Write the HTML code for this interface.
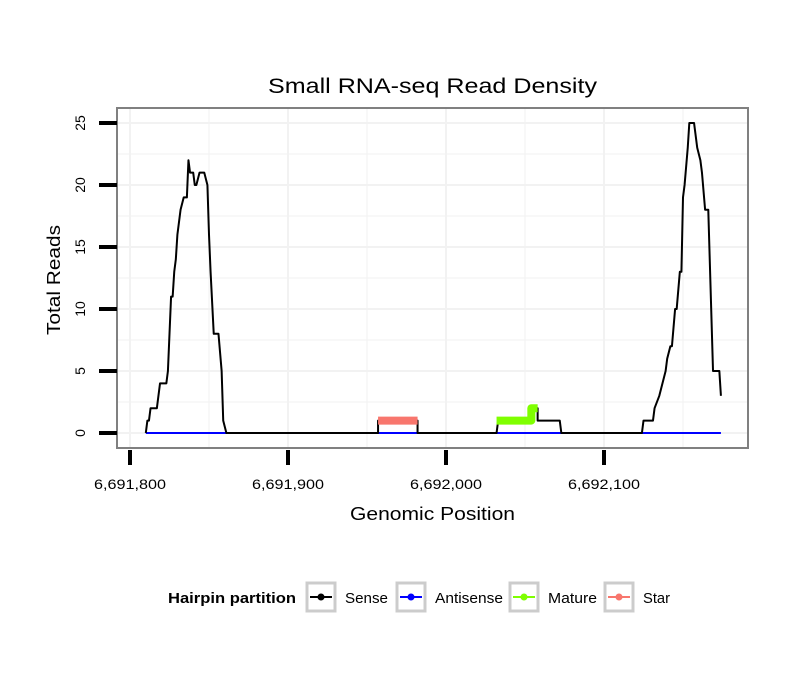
<!DOCTYPE html>
<html><head><meta charset="utf-8"><style>
body{margin:0;background:#fff}
svg text{font-family:"Liberation Sans",sans-serif}
</style></head><body>
<svg width="810" height="690" xmlns="http://www.w3.org/2000/svg">
<rect width="810" height="690" fill="#fff"/>
<text x="268" y="93" font-size="21" textLength="329" lengthAdjust="spacingAndGlyphs">Small RNA-seq Read Density</text>
<g id="grid"></g>
<g id="series"></g>
<rect x="117" y="108" width="631" height="340" fill="none" stroke="#808080" stroke-width="2"/>
<g id="axes"></g>
<text x="350" y="520" font-size="18" textLength="165" lengthAdjust="spacingAndGlyphs">Genomic Position</text>
<text transform="translate(60,335) rotate(-90)" font-size="18" textLength="110" lengthAdjust="spacingAndGlyphs">Total Reads</text>
<g id="legend">
<text x="168" y="603" font-size="15" font-weight="bold" textLength="128" lengthAdjust="spacingAndGlyphs">Hairpin partition</text>
</g>
</svg>
<script>
const xTicks=[6691800,6691900,6692000,6692100];
const yTicks=[0,5,10,15,20,25];
const sensePos=[6691810,6691811,6691812,6691813,6691817,6691819,6691823,6691824,6691826,6691827,6691828,6691829,6691830,6691832,6691834,6691836,6691837,6691838,6691840,6691841,6691842,6691844,6691847,6691849,6691850,6691851,6691853,6691854,6691856,6691858,6691859,6691861,
6691957,6691957,6691982,6691982,6692032,6692033,6692054,6692054,6692058,6692058,6692072,6692073,
6692124,6692125,6692131,6692132,6692135,6692137,6692139,6692140,6692142,6692143,6692145,6692146,6692148,6692149,6692150,6692151,6692153,6692154,6692157,6692158,6692159,6692161,6692162,6692164,6692166,6692169,6692173,6692174];
const senseVal=[0,1,1,2,2,4,4,5,11,11,13,14,16,18,19,19,22,21,21,20,20,21,21,20,16,13,8,8,8,5,1,0,
0,1,1,0,0,1,1,2,2,1,1,0,
0,1,1,2,3,4,5,6,7,7,10,10,13,13,19,20,23,25,25,24,23,22,21,18,18,5,5,3];
const antiPos=[6691810,6692174];
const antiVal=[0,0];
const maturePos=[6692032,6692054,6692054,6692058];
const matureVal=[1,1,2,2];
const starPos=[6691957,6691982];
const starVal=[1,1];
const legendLabels=["Sense","Antisense","Mature","Star"];
const legendColors=["#000","#0000ff","#7fff00","#f8766d"];
const legendWidths=[43,68,49,27];

const NS="http://www.w3.org/2000/svg";
const X=v=>130+(v-6691800)*1.58;
const Y=v=>433-v*12.4;
function mk(t,a,parent){const e=document.createElementNS(NS,t);for(const k in a)e.setAttribute(k,a[k]);document.getElementById(parent).appendChild(e);return e;}
for(let v=-2.5;v<=27.5;v+=2.5){const y=Y(v);if(y<108||y>448)continue;
 const g=mk('line',{x1:117,x2:748,y1:y,y2:y,stroke:'#f2f2f2','stroke-width':v%5===0?2:1},'grid');
 
 }
for(let v=6691750;v<=6692200;v+=50){const x=X(v);if(x<117||x>748)continue;
 const g=mk('line',{x1:x,x2:x,y1:108,y2:448,stroke:'#f2f2f2','stroke-width':v%100===0?2:1},'grid');
 
 }
function line(pos,val,color,w,name){
 const p=mk('polyline',{points:pos.map((d,i)=>X(d)+','+Y(val[i])).join(' '),fill:'none',stroke:color,'stroke-width':w,'stroke-linejoin':'round'},'series');
 
 }
line(antiPos,antiVal,'#0000ff',2,'antisense-line');
line(sensePos,senseVal,'#000',2,'sense-line');
line(starPos,starVal,'#f8766d',8,'star-line');
line(maturePos,matureVal,'#7fff00',8,'mature-line');
xTicks.forEach(v=>{const x=X(v);
 const t=mk('line',{x1:x,x2:x,y1:450,y2:465,stroke:'#000','stroke-width':4},'axes');
 
 
 const l=mk('text',{x:x-36,y:489,'font-size':14,textLength:72,lengthAdjust:'spacingAndGlyphs'},'axes');
 l.textContent=v.toLocaleString('en-US');
 
 });
yTicks.forEach(v=>{const y=Y(v);
 const t=mk('line',{x1:99,x2:117,y1:y,y2:y,stroke:'#000','stroke-width':4},'axes');
 
 
 const l=mk('text',{transform:`translate(85,${y}) rotate(-90)`,'font-size':14,'text-anchor':'middle'},'axes');
 l.textContent=v;
 
 });
const boxX=[305,395,508,603];
legendLabels.forEach((s,i)=>{const bx=boxX[i];
 const r=mk('rect',{x:bx+2,y:583,width:28,height:28,fill:'#fff',stroke:'#ccc','stroke-width':3},'legend');
 
 
 const l=mk('line',{x1:bx+5,x2:bx+27,y1:597,y2:597,stroke:legendColors[i],'stroke-width':2},'legend');
 
 
 const c=mk('circle',{cx:bx+16,cy:597,r:3.5,fill:legendColors[i]},'legend');
 
 
 const t=mk('text',{x:bx+40,y:603,'font-size':15,textLength:legendWidths[i],lengthAdjust:'spacingAndGlyphs'},'legend');
 t.textContent=s;
 
 });
</script>
</body></html>
